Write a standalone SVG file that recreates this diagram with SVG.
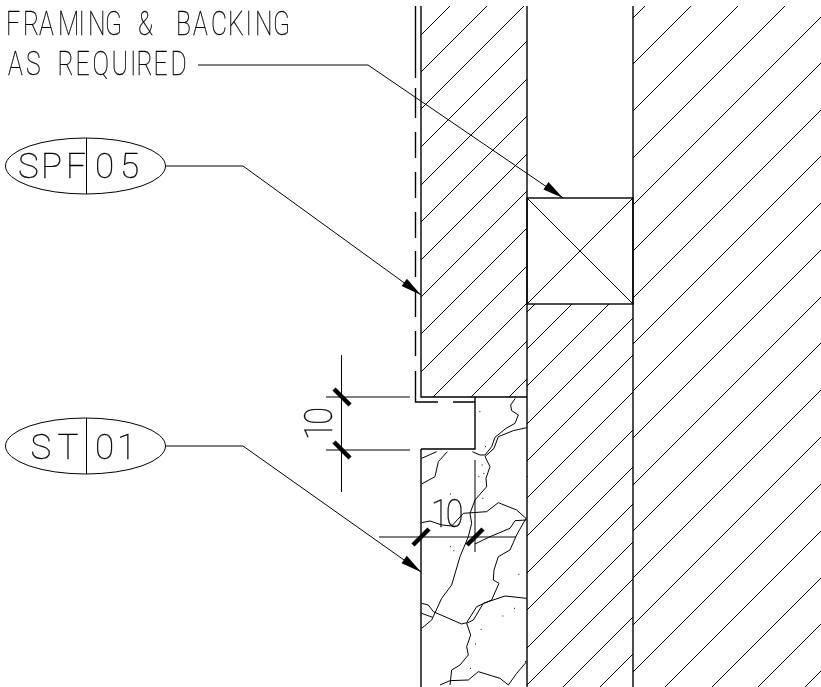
<svg xmlns="http://www.w3.org/2000/svg" width="821" height="687" viewBox="0 0 821 687">
<style>
.t{font-family:"Roboto","Liberation Sans",sans-serif;font-weight:100;fill:#000;stroke:#000;stroke-width:.3;filter:url(#gray)}
.l{fill:none;stroke:#000;stroke-width:1}
.h{fill:none;stroke:#000;stroke-width:1}
.w{fill:none;stroke:#000;stroke-width:1.4}
.k{fill:none;stroke:#000;stroke-width:4.500}
.c{fill:none;stroke:#000;stroke-width:3}
</style>
<defs>
<filter id="gray" x="-10%" y="-10%" width="120%" height="120%"><feOffset dx="0" dy="0"/></filter>
<clipPath id="c1"><rect x="421" y="6" width="106" height="391"/></clipPath>
<clipPath id="c2"><rect x="527" y="304" width="106" height="383"/></clipPath>
<clipPath id="c3"><rect x="633" y="6" width="188" height="681"/></clipPath>
<path id="arrow" d="M0 0L-21 -5L-21 4Z" fill="#000"/>
</defs>
<rect width="821" height="687" fill="#fff"/>
<g id="hatch-upper-wall" clip-path="url(#c1)">
<path class="h" d="M-244 700l700-700M-207 700l700-700M-170 700l700-700M-132 700l700-700M-94 700l700-700M-57 700l700-700M-19 700l700-700M18 700l700-700M55 700l700-700M93 700l700-700M130 700l700-700M168 700l700-700M206 700l700-700"/>
</g>
<g id="hatch-middle-wall" clip-path="url(#c2)">
<path class="h" d="M139 700l700-700M176 700l700-700M213 700l700-700M251 700l700-700M288 700l700-700M325 700l700-700M363 700l700-700M400 700l700-700M437 700l700-700M475 700l700-700M512 700l700-700M550 700l700-700M587 700l700-700M624 700l700-700"/>
</g>
<g id="hatch-right-wall" clip-path="url(#c3)">
<path class="h" d="M-49 700l700-700M-3 700l700-700M44 700l700-700M91 700l700-700M138 700l700-700M184 700l700-700M231 700l700-700M277 700l700-700M324 700l700-700M371 700l700-700M418 700l700-700M464 700l700-700M511 700l700-700M558 700l700-700M605 700l700-700M652 700l700-700M699 700l700-700M745 700l700-700M792 700l700-700"/>
</g>
<g id="stone-cracks" transform="translate(370 340) scale(.33333)">
<path class="c" d="M436 175L422 195L425 212L445 225L435 250L408 265L375 292L365 320L345 345L330 345L307 335"/>
<path class="c" d="M470 263L430 272L385 290L372 325L345 350L360 380L348 415L350 440L315 480L300 520L305 550L295 590L270 650L245 735L215 775L185 840L155 865"/>
<path class="c" d="M155 355L200 335M232 335L205 365L195 410L155 432"/>
<path class="c" d="M155 548L180 543L215 555L245 558L280 520L350 515L385 488L440 510L468 535L440 585L420 630L385 650L372 690L370 720L387 730L365 780L320 800L290 848L275 852L190 815L175 795L155 790"/>
<path class="c" d="M470 540L435 542L420 565L360 590L315 612"/>
<path class="c" d="M155 820L188 832"/>
<path class="c" d="M470 775L405 768L340 790L310 840L290 850L302 885L290 920L295 945L270 975L245 990L240 1035"/>
<path class="c" d="M210 1035L240 1022L295 1020L325 995L390 1015L415 1035L440 1000L470 965"/>
<path class="c" d="M328 215h3M345 320h3M335 375h3M340 400h3M325 410h3M240 462h3M337 475h3M250 632h3M240 620h3M445 703h3M397 828h3M432 805h3M332 868h3M315 912h3M300 985h3M465 965h3M470 410h3"/>
</g>
<g id="walls">
<path class="w" d="M421 6V397H527M527 6V687M633 6V687M421 449V687M421 449H475V397"/>
<path class="w" d="M415.500 6V78M415.500 88V118M415.500 132V158M415.500 172V198M415.500 212V238M415.500 251V277M415.500 291V317M415.500 331V356M415.500 371V402H438M453 402H475"/>
</g>
<g id="framing-block">
<rect class="w" x="527" y="198" width="106" height="106"/>
<path class="l" d="M527 198L633 304M633 198L527 304"/>
</g>
<g id="connectors">
<path class="l" d="M198 65H368L563 198"/>
<use href="#arrow" transform="translate(563 198) rotate(34.300)"/>
<path class="l" d="M166 166H243L421 295"/>
<use href="#arrow" transform="translate(421 295) rotate(35.900)"/>
<path class="l" d="M166 446H243L421 572"/>
<use href="#arrow" transform="translate(421 572) rotate(35.300)"/>
</g>
<g id="label-framing">
<text class="t" transform="scale(.75 1)" y="35.500" font-size="33" x="8 30.700 52 77.300 104.700 117.300 140 170 184 220 234.700 257.300 281.300 304 327.300 340 364">FRAMING &amp; BACKING</text>
<text class="t" transform="scale(.75 1)" y="75" font-size="33" x="10.700 34.700 60 76.700 100.700 123.300 148.700 173.300 182 204.700 227.300">AS REQUIRED</text>
</g>
<g id="tag-spf05">
<ellipse class="l" cx="85.500" cy="166" rx="80" ry="28"/>
<path class="l" d="M86.500 138V194"/>
<text class="t" y="178" font-size="35" x="18 41 66">SPF</text>
<text class="t" y="178" font-size="35" x="95 120">05</text>
</g>
<g id="tag-st01">
<ellipse class="l" cx="85.500" cy="446" rx="80" ry="28"/>
<path class="l" d="M86.500 418V474"/>
<text class="t" y="458.500" font-size="35" x="30.500 57.500">ST</text>
<text class="t" y="458.500" font-size="35" x="95 117">01</text>
</g>
<g id="dimension-vertical">
<path class="l" d="M326 397H410M326 450H410M341.500 355V492"/>
<path class="k" d="M334 389L350 405M334 442L350 458"/>
<text class="t" transform="translate(332 440) rotate(-90) scale(.85 1)" font-size="38" x="0 18">10</text>
</g>
<g id="dimension-horizontal">
<path class="l" d="M379 537H516M475 460V552"/>
<path class="k" d="M413 545L429 529M467 545L483 529"/>
<text class="t" transform="scale(.85 1)" y="527" font-size="38" x="507 524.500">10</text>
</g>
</svg>
